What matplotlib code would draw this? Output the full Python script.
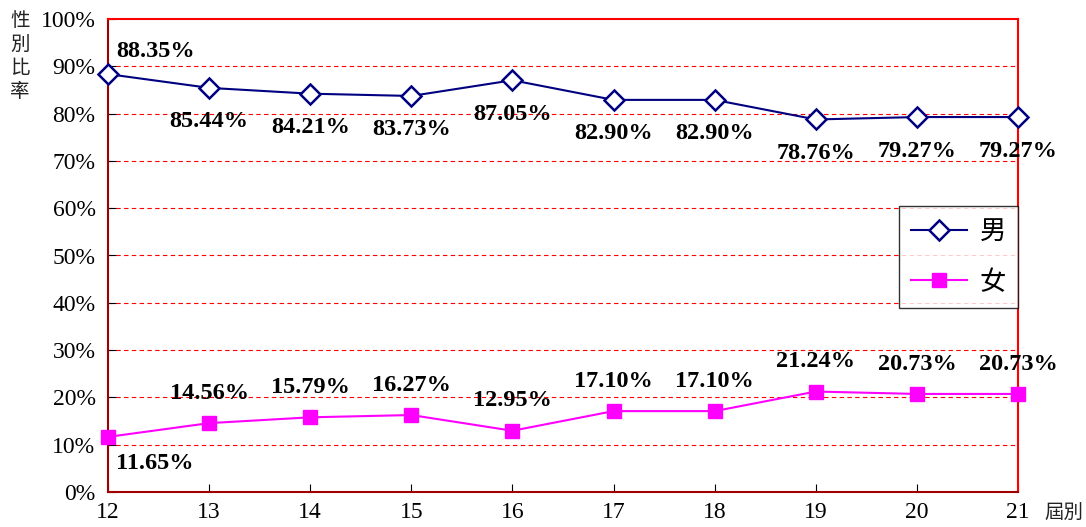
import matplotlib
matplotlib.use("Agg")
import matplotlib.pyplot as plt
from matplotlib.ticker import FuncFormatter

plt.rcParams['font.family'] = ['Liberation Serif', 'Noto Sans CJK TC']

sessions = [12, 13, 14, 15, 16, 17, 18, 19, 20, 21]
male = [88.35, 85.44, 84.21, 83.73, 87.05, 82.90, 82.90, 78.76, 79.27, 79.27]
female = [11.65, 14.56, 15.79, 16.27, 12.95, 17.10, 17.10, 21.24, 20.73, 20.73]
yticks = [0, 10, 20, 30, 40, 50, 60, 70, 80, 90, 100]

fig = plt.figure(figsize=(10.86, 5.27), dpi=100)
ax = fig.add_axes([108/1086, 1-492/527, 910/1086, 473/527])

ax.plot(sessions, male, color='#000080', lw=1.5, marker='D', markersize=10,
        markerfacecolor='white', markeredgecolor='#000080', markeredgewidth=1.8, label='男',
        zorder=3, clip_on=False)
ax.plot(sessions, female, color='#FF00FF', lw=1.5, marker='s', markersize=10,
        markerfacecolor='#FF00FF', markeredgecolor='#FF00FF', label='女', zorder=3, clip_on=False)

ax.set_xlim(12, 21)
ax.set_ylim(0, 100)
ax.set_xticks(sessions)
ax.set_yticks(yticks)
ax.yaxis.set_major_formatter(FuncFormatter(lambda v, p: f"{int(v)}%"))
ax.tick_params(direction='in', labelsize=17, length=6, color='black')
ax.tick_params(axis='x', pad=7)
ax.tick_params(axis='y', pad=9)
for t in yticks[1:-1]:
    ax.axhline(t, color='red', lw=0.8, ls=(0, (4, 3)), zorder=1)
for s in ax.spines.values():
    s.set_color('red')
    s.set_linewidth(1.5)
ax.spines['left'].set_color('#A00000')
ax.spines['bottom'].set_color('#A00000')

lab_kw = dict(fontsize=17.5, fontweight='bold', ha='center', va='center', zorder=4,
              textcoords='offset points')
for i, (x, v) in enumerate(zip(sessions, male)):
    off = (34, 16) if i == 0 else (0, -24.5)
    ax.annotate(f"{v:.2f}%", (x, v), xytext=off, **lab_kw)
for i, (x, v) in enumerate(zip(sessions, female)):
    off = (34, -19) if i == 0 else (0, 21.5)
    ax.annotate(f"{v:.2f}%", (x, v), xytext=off, **lab_kw)

fig.text(20/1086, 1-56/527, "性\n別\n比\n率", fontsize=14, ha='center', va='center',
         linespacing=1.15, family=['Noto Sans CJK TC'], color='#222222')
fig.text(1064/1086, 1-512/527, "屆別", fontsize=14, ha='center', va='center',
         family=['Noto Sans CJK TC'], color='#222222')

leg = ax.legend(loc='upper right', bbox_to_anchor=(1.0, (492-206)/473),
                frameon=True, fancybox=False, shadow=False,
                edgecolor='black', borderpad=0.45, labelspacing=0.9, handlelength=2.1,
                handletextpad=0.5, borderaxespad=0.0,
                prop={'family': ['Noto Sans CJK TC'], 'size': 19})
leg.get_frame().set_linewidth(1.0)

fig.savefig("out.png", dpi=100)
